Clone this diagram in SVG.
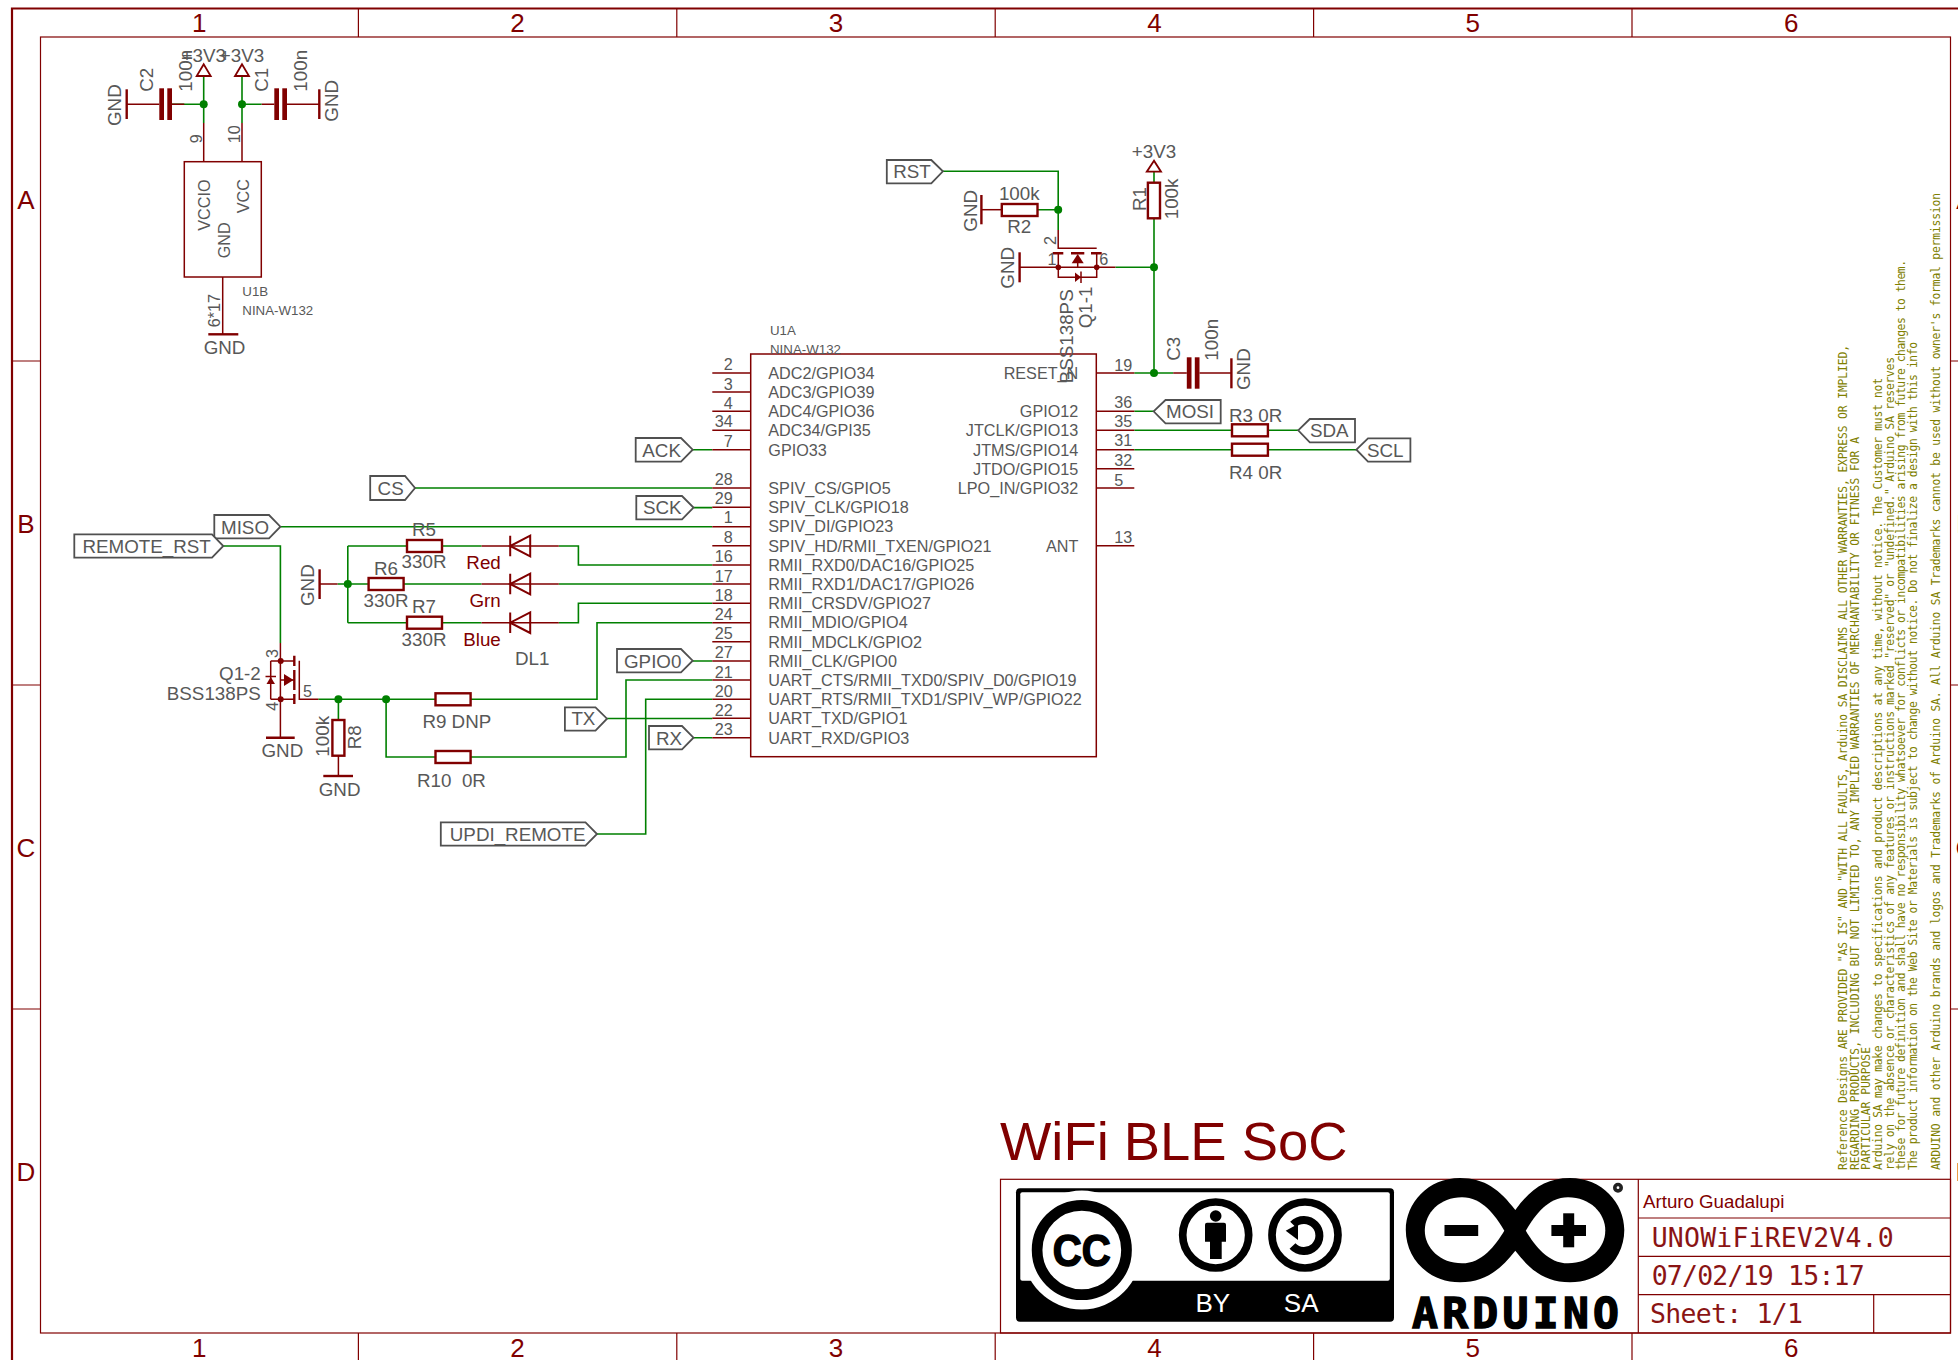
<svg xmlns="http://www.w3.org/2000/svg" width="1958" height="1360" viewBox="0 0 1958 1360">
<style>
text{font-family:"Liberation Sans",Arial,sans-serif;font-size:18.8px;fill:#585858}
.p{font-size:16.2px}
.s{font-size:13.3px}
.e{text-anchor:end}
.m{text-anchor:middle}
.r{fill:#800000}
.z{fill:#800000;font-size:26px;text-anchor:middle}
.v{font-family:"DejaVu Sans Mono","Liberation Mono",monospace;fill:#8a1414;font-size:26.5px}
.d{font-family:"DejaVu Sans Mono","Liberation Mono",monospace;fill:#808000;font-size:11.4px}
path,rect,circle,polygon{fill:none}
.w{stroke:#008000;stroke-width:1.6}
.l{stroke:#800000;stroke-width:1.5}
.t{stroke:#800000;stroke-width:2.4}
.g{stroke:#800000;stroke-width:2}
.f{stroke:#800000;stroke-width:1.2}
.lab{stroke:#505050;stroke-width:1.8;fill:#fff}
.sup{stroke:#800000;stroke-width:1.8}
.dot{fill:#008000}
.rd{fill:#800000}
.k{fill:#000}
.wh{fill:#fff}
</style>

<g id="frame">
<path class="f" style="stroke-width:2.2" d="M12 1360V8.500H1958"/>
<rect class="f" x="40.500" y="37" width="1910" height="1296"/>
<path class="f" d="M358.400 8V37M676.800 8V37M995.200 8V37M1313.600 8V37M1632 8V37M358.400 1333V1360M676.800 1333V1360M995.200 1333V1360M1313.600 1333V1360M1632 1333V1360M12 361H40M12 685H40M12 1009H40M1950 361H1958M1950 685H1958M1950 1009H1958"/>
<text class="z" x="199.200" y="32">1</text><text class="z" x="517.600" y="32">2</text><text class="z" x="836" y="32">3</text><text class="z" x="1154.400" y="32">4</text><text class="z" x="1472.800" y="32">5</text><text class="z" x="1791.200" y="32">6</text>
<text class="z" x="199.200" y="1357">1</text><text class="z" x="517.600" y="1357">2</text><text class="z" x="836" y="1357">3</text><text class="z" x="1154.400" y="1357">4</text><text class="z" x="1472.800" y="1357">5</text><text class="z" x="1791.200" y="1357">6</text>
<text class="z" x="26" y="208.500">A</text><text class="z" x="26" y="532.500">B</text><text class="z" x="26" y="856.500">C</text><text class="z" x="26" y="1180.500">D</text>
<text class="z" x="1965" y="208.500">A</text><text class="z" x="1965" y="532.500">B</text><text class="z" x="1965" y="856.500">C</text><text class="z" x="1965" y="1180.500">D</text>
</g>

<g id="connectors">
<path class="w" d="M203.700 76V123M172 104.300H203.700M242 76V123M242 104.300H261.700"/>
<path class="w" d="M942.900 171.300H1058.200V230M1037.500 209.700H1058.200M1154 182.700V171.700M1154 218.300V373M1115.400 267.300H1154M1134.300 373H1173.200"/>
<path class="w" d="M1134.300 411.300H1153.600M1134.300 430.300H1232M1267.900 430.300H1298.200M1134.300 449.700H1232M1267.900 449.700H1356.400"/>
<path class="w" d="M692.700 449.700H712.300M415 488H712.300M693.500 507.600H712.300M280.400 526.700H712.300M223.300 546H280.400V643"/>
<path class="w" d="M337.600 584H368.600M347.800 546V622.700M347.800 546H407M347.800 622.700H407M442 546H481.600M403.700 584H481.600M442 622.700H481.600"/>
<path class="w" d="M558.800 546H578.400V565H712.300M558.800 584H712.300M558.800 622.700H578.400V603.300H712.300"/>
<path class="w" d="M318.300 699.300H435.500M470.600 699.300H597V622.700H712.300M338.400 699.300V720M386.100 699.300V757H435.500M470.600 757H626V680H712.300"/>
<path class="w" d="M692.700 661H712.300M607 718.500H712.300M693.500 737.700H712.300M597 834H645.700V699.300H712.300"/>
</g>

<g id="junctions">
<circle class="dot" cx="203.700" cy="104.300" r="4"/><circle class="dot" cx="242" cy="104.300" r="4"/>
<circle class="dot" cx="1058.200" cy="209.700" r="4"/><circle class="dot" cx="1154" cy="267.300" r="4"/><circle class="dot" cx="1154" cy="373" r="4"/>
<circle class="dot" cx="347.800" cy="584" r="4"/><circle class="dot" cx="338.400" cy="699.300" r="4"/><circle class="dot" cx="386.100" cy="699.300" r="4"/>
</g>

<g id="U1B">
<rect class="l" x="184.300" y="161.700" width="77" height="115.300"/>
<path class="l" d="M203.700 123V161.700M242 123V161.700M222.700 277V334.300"/>
<path class="t" d="M208.300 334.300H238.300"/>
<text class="p" transform="translate(210 230.700) rotate(-90)">VCCIO</text>
<text class="p" transform="translate(248.700 213.300) rotate(-90)">VCC</text>
<text class="p" transform="translate(230 258.300) rotate(-90)">GND</text>
<text class="p" transform="translate(201.700 143.300) rotate(-90)">9</text>
<text class="p" transform="translate(240 143.300) rotate(-90)">10</text>
<text class="p" transform="translate(220 327.300) rotate(-90)">6*17</text>
<text class="s" x="242.300" y="296">U1B</text><text class="s" x="242.300" y="315">NINA-W132</text>
<text class="m" x="224.500" y="353.800">GND</text>
</g>

<g id="supply-left">
<polygon class="sup" points="203.700,64.300 196.700,76 210.700,76"/><text class="m" x="203.700" y="62.300">+3V3</text>
</g>
<g id="supply-right">
<polygon class="sup" points="242,64.300 235,76 249,76"/><text class="m" x="242" y="62.300">+3V3</text>
</g>

<g id="C2">
<path class="t" d="M126.700 89.300V119"/><path class="l" d="M126.700 104.300H159.300M172 104.300H184.300"/>
<rect class="rd" x="159.300" y="88.300" width="4.700" height="31.700"/><rect class="rd" x="167.300" y="88.300" width="4.700" height="31.700"/>
<text transform="translate(120.700 126) rotate(-90)">GND</text>
<text transform="translate(153.300 91.700) rotate(-90)">C2</text>
<text transform="translate(191.700 91.700) rotate(-90)">100n</text>
</g>
<g id="C1">
<path class="t" d="M319.300 89.300V119"/><path class="l" d="M261.700 104.300H274.300M287 104.300H319.300"/>
<rect class="rd" x="274.300" y="88.300" width="4.700" height="31.700"/><rect class="rd" x="282.300" y="88.300" width="4.700" height="31.700"/>
<text transform="translate(338.300 121.700) rotate(-90)">GND</text>
<text transform="translate(268.300 91.700) rotate(-90)">C1</text>
<text transform="translate(306.700 91.700) rotate(-90)">100n</text>
</g>

<g id="U1A">
<rect class="l" x="750.700" y="354" width="345.600" height="402.700"/>
<path class="l" d="M712.300 373H750.700M712.300 392H750.700M712.300 411.300H750.700M712.300 430.300H750.700M712.300 449.700H750.700M712.300 488H750.700M712.300 507.300H750.700M712.300 526.700H750.700M712.300 545.700H750.700M712.300 565H750.700M712.300 584H750.700M712.300 603.300H750.700M712.300 622.700H750.700M712.300 641.700H750.700M712.300 661H750.700M712.300 680H750.700M712.300 699.300H750.700M712.300 718.300H750.700M712.300 737.700H750.700"/>
<path class="l" d="M1096.300 373H1134.300M1096.300 411.300H1134.300M1096.300 430.300H1134.300M1096.300 449.700H1134.300M1096.300 468.700H1134.300M1096.300 488H1134.300M1096.300 545.700H1134.300"/>
<text class="s" x="770" y="335.300">U1A</text><text class="s" x="770" y="354">NINA-W132</text>
<text class="p" x="768.300" y="379.300">ADC2/GPIO34</text><text class="p" x="768.300" y="398.300">ADC3/GPIO39</text><text class="p" x="768.300" y="417.300">ADC4/GPIO36</text><text class="p" x="768.300" y="436.300">ADC34/GPI35</text><text class="p" x="768.300" y="456">GPIO33</text>
<text class="p" x="768.300" y="494">SPIV_CS/GPIO5</text><text class="p" x="768.300" y="513">SPIV_CLK/GPIO18</text><text class="p" x="768.300" y="532.300">SPIV_DI/GPIO23</text><text class="p" x="768.300" y="552">SPIV_HD/RMII_TXEN/GPIO21</text><text class="p" x="768.300" y="571">RMII_RXD0/DAC16/GPIO25</text><text class="p" x="768.300" y="590">RMII_RXD1/DAC17/GPIO26</text><text class="p" x="768.300" y="609">RMII_CRSDV/GPIO27</text><text class="p" x="768.300" y="628">RMII_MDIO/GPIO4</text><text class="p" x="768.300" y="648">RMII_MDCLK/GPIO2</text><text class="p" x="768.300" y="667">RMII_CLK/GPIO0</text><text class="p" x="768.300" y="686">UART_CTS/RMII_TXD0/SPIV_D0/GPIO19</text><text class="p" x="768.300" y="705">UART_RTS/RMII_TXD1/SPIV_WP/GPIO22</text><text class="p" x="768.300" y="724">UART_TXD/GPIO1</text><text class="p" x="768.300" y="744">UART_RXD/GPIO3</text>
<text class="p e" x="1078.300" y="379.300">RESET_N</text><text class="p e" x="1078.300" y="417.300">GPIO12</text><text class="p e" x="1078.300" y="436.300">JTCLK/GPIO13</text><text class="p e" x="1078.300" y="456">JTMS/GPIO14</text><text class="p e" x="1078.300" y="475">JTDO/GPIO15</text><text class="p e" x="1078.300" y="494">LPO_IN/GPIO32</text><text class="p e" x="1078.300" y="552">ANT</text>
<text class="p e" x="732.700" y="370">2</text><text class="p e" x="732.700" y="390">3</text><text class="p e" x="732.700" y="408.500">4</text><text class="p e" x="732.700" y="427.300">34</text><text class="p e" x="732.700" y="446.700">7</text><text class="p e" x="732.700" y="485">28</text><text class="p e" x="732.700" y="504">29</text><text class="p e" x="732.700" y="523">1</text><text class="p e" x="732.700" y="542.500">8</text><text class="p e" x="732.700" y="561.500">16</text><text class="p e" x="732.700" y="581.500">17</text><text class="p e" x="732.700" y="600.500">18</text><text class="p e" x="732.700" y="619.500">24</text><text class="p e" x="732.700" y="638.500">25</text><text class="p e" x="732.700" y="657.500">27</text><text class="p e" x="732.700" y="677.500">21</text><text class="p e" x="732.700" y="696.500">20</text><text class="p e" x="732.700" y="715.500">22</text><text class="p e" x="732.700" y="734.500">23</text>
<text class="p" x="1114.300" y="371">19</text><text class="p" x="1114.300" y="408">36</text><text class="p" x="1114.300" y="427">35</text><text class="p" x="1114.300" y="446">31</text><text class="p" x="1114.300" y="465.500">32</text><text class="p" x="1114.300" y="486">5</text><text class="p" x="1114.300" y="543">13</text>
</g>

<g id="RST"><polygon class="lab" points="886.800,160 931.300,160 942.900,171.300 931.300,183.300 886.800,183.300"/><text x="893.200" y="178.300">RST</text></g>
<g id="R2">
<path class="t" d="M981.400 195V224.300"/><path class="l" d="M981.400 209.700H1001.800"/><rect class="t" x="1001.800" y="204" width="35.700" height="12"/>
<text transform="translate(976.800 231.700) rotate(-90)">GND</text>
<text class="m" x="1019.300" y="200">100k</text><text class="m" x="1019.300" y="233.300">R2</text>
</g>
<g id="R1">
<polygon class="sup" points="1154,160.700 1146.800,171.700 1161,171.700"/>
<rect class="t" x="1147.900" y="182.700" width="12.100" height="35.600"/>
<text class="m" x="1154" y="158">+3V3</text>
<text transform="translate(1145.700 211) rotate(-90)">R1</text>
<text transform="translate(1177.900 219.300) rotate(-90)">100k</text>
</g>
<g id="Q1-1">
<path class="l" d="M1058.200 230V248.300H1096.700M1019.600 267.300H1115.400M1058.300 253.300V277.300H1096.700V253.300M1077.700 263V267.300"/>
<path class="t" d="M1052.700 253.300H1063.300M1091 253.300H1101.700M1071 253.300H1084.300"/>
<path class="t" d="M1019.600 252.300V282.300"/>
<polygon class="rd" points="1077.700,254 1071.700,263.300 1083.700,263.300"/>
<polygon class="rd" points="1075,272.500 1075,282 1081,277.300"/>
<path class="l" d="M1081 271.500V283"/>
<circle class="rd" cx="1058.300" cy="267.300" r="2.800"/><circle class="rd" cx="1096.700" cy="267.300" r="2.800"/>
<text class="p" transform="translate(1055.700 245) rotate(-90)">2</text>
<text class="p" x="1047.500" y="265">1</text><text class="p" x="1099.300" y="265">6</text>
<text transform="translate(1013.600 288.700) rotate(-90)">GND</text>
<text transform="translate(1072.500 383.300) rotate(-90)">BSS138PS</text>
<text transform="translate(1092 328.300) rotate(-90)">Q1-1</text>
</g>
<g id="C3">
<path class="l" d="M1173.200 373H1186.800M1199.500 373H1231.400"/>
<rect class="rd" x="1186.800" y="357.300" width="4.700" height="31.400"/><rect class="rd" x="1194.800" y="357.300" width="4.700" height="31.400"/>
<path class="t" d="M1231.400 358.300V388.300"/>
<text transform="translate(1250 390) rotate(-90)">GND</text>
<text transform="translate(1180.400 360.700) rotate(-90)">C3</text>
<text transform="translate(1218.200 360.700) rotate(-90)">100n</text>
</g>
<g id="MOSI"><polygon class="lab" points="1153.600,411.300 1165.500,400 1220.700,400 1220.700,423.300 1165.500,423.300"/><text x="1166" y="418.300">MOSI</text></g>
<g id="R3"><rect class="t" x="1232" y="424.300" width="35.900" height="12"/><text x="1229" y="421.700">R3 0R</text></g>
<g id="R4"><rect class="t" x="1232" y="443.700" width="35.900" height="12"/><text x="1229" y="479">R4 0R</text></g>
<g id="SDA"><polygon class="lab" points="1298.200,430.300 1309.800,419 1355,419 1355,442.300 1309.800,442.300"/><text x="1310" y="437">SDA</text></g>
<g id="SCL"><polygon class="lab" points="1356.400,449.700 1368,438.300 1410.400,438.300 1410.400,461.700 1368,461.700"/><text x="1367" y="456.700">SCL</text></g>

<g id="ACK"><polygon class="lab" points="635.700,438 681,438 692.700,449.700 681,461.700 635.700,461.700"/><text x="642.300" y="456.700">ACK</text></g>
<g id="CS"><polygon class="lab" points="370.200,476 405,476 415,488 405,500 370.200,500"/><text x="377.600" y="495">CS</text></g>
<g id="SCK"><polygon class="lab" points="636.300,496 682,496 693.500,507.600 682,519.300 636.300,519.300"/><text x="642.900" y="514">SCK</text></g>
<g id="MISO"><polygon class="lab" points="214.300,515 269,515 280.400,526.700 269,538.300 214.300,538.300"/><text x="221" y="533.500">MISO</text></g>
<g id="REMOTE_RST"><polygon class="lab" points="74.300,534.300 212,534.300 223.300,546 212,557.700 74.300,557.700"/><text x="82.400" y="553">REMOTE_RST</text></g>
<g id="GPIO0"><polygon class="lab" points="617,649 681,649 692.700,660.700 681,672.300 617,672.300"/><text x="624" y="668">GPIO0</text></g>
<g id="TX"><polygon class="lab" points="564.900,707.300 595.500,707.300 607,718.700 595.500,730.700 564.900,730.700"/><text x="571.400" y="725">TX</text></g>
<g id="RX"><polygon class="lab" points="649,726 682,726 693.500,737.700 682,749.300 649,749.300"/><text x="656" y="745">RX</text></g>
<g id="UPDI_REMOTE"><polygon class="lab" points="440.800,822.300 585.500,822.300 597,834 585.500,845.700 440.800,845.700"/><text x="449.800" y="841">UPDI_REMOTE</text></g>

<g id="GND-leds">
<path class="t" d="M319.600 569.300V599"/><path class="l" d="M319.600 584H337.600"/>
<text transform="translate(313.900 606) rotate(-90)">GND</text>
</g>
<g id="R5"><rect class="t" x="407" y="540" width="35" height="12"/><text class="m" x="424" y="535.700">R5</text><text class="m" x="424" y="568.300">330R</text></g>
<g id="R6"><rect class="t" x="368.600" y="578" width="35" height="12"/><text class="m" x="386" y="575">R6</text><text class="m" x="386" y="606.700">330R</text></g>
<g id="R7"><rect class="t" x="407" y="616.700" width="35" height="12"/><text class="m" x="424" y="612.700">R7</text><text class="m" x="424" y="645.700">330R</text></g>
<g id="DL1">
<path class="l" d="M481.600 546H558.800M481.600 584H558.800M481.600 622.700H558.800"/>
<path class="g" d="M510.200 535.700V556.300M530.200 535.700V556.300L510.200 546ZM510.200 573.700V594.300M530.200 573.700V594.300L510.200 584ZM510.200 612.400V633M530.200 612.400V633L510.200 622.700Z"/>
<text class="r e" x="500.800" y="569">Red</text><text class="r e" x="500.800" y="607.300">Grn</text><text class="r e" x="500.800" y="646">Blue</text>
<text x="515" y="665">DL1</text>
</g>
<g id="Q1-2">
<path class="l" d="M280.400 643V737.700M270.700 661H294.300M270.700 699.300H294.300M270.700 661V699.300M280.700 680H294.300M299.300 660.700V699.300H318.300"/>
<path class="t" d="M294.300 655.700V666M294.300 694V704M294.300 670V690M266 737.700H294.700"/>
<polygon class="rd" points="284,674 284,686 293.500,680"/>
<polygon class="rd" points="270.700,677 266.500,684 275,684"/>
<path class="l" d="M265.500 676.500H276"/>
<circle class="rd" cx="280.700" cy="661" r="3"/><circle class="rd" cx="280.700" cy="699.300" r="3"/>
<text class="p" transform="translate(278.400 658) rotate(-90)">3</text>
<text class="p" transform="translate(278.400 710.700) rotate(-90)">4</text>
<text class="p" x="303" y="696.700">5</text>
<text class="e" x="260.800" y="680">Q1-2</text><text class="e" x="260.800" y="700">BSS138PS</text>
<text class="m" x="282.400" y="756.700">GND</text>
</g>
<g id="R8">
<rect class="t" x="332.400" y="720" width="12" height="35.700"/>
<path class="l" d="M338.400 755.700V776"/><path class="t" d="M323.300 776H353"/>
<text transform="translate(329.400 756.700) rotate(-90)">100k</text>
<text transform="translate(361.200 749.300) rotate(-90)">R8</text>
<text class="m" x="339.600" y="795.700">GND</text>
</g>
<g id="R9"><rect class="t" x="435.500" y="693.300" width="35.100" height="12"/><text x="422.400" y="727.700" xml:space="preserve">R9 DNP</text></g>
<g id="R10"><rect class="t" x="435.500" y="751" width="35.100" height="12"/><text x="417" y="786.700" xml:space="preserve">R10  0R</text></g>

<g id="title-block">
<rect class="f" x="1000.500" y="1179.300" width="950" height="153.700"/>
<path class="f" d="M1638.300 1179.300V1333M1638.300 1218H1950.500M1638.300 1256.300H1950.500M1638.300 1294.700H1950.500M1873.700 1294.700V1333"/>
<text class="r" x="1000" y="1160" style="font-size:54.400px">WiFi BLE SoC</text>
<text class="r" x="1643" y="1207.700" style="font-size:18.700px">Arturo Guadalupi</text>
<text class="v" x="1651.700" y="1246.700" textLength="242" lengthAdjust="spacing">UNOWiFiREV2V4.0</text>
<text class="v" x="1651.700" y="1285" textLength="213" lengthAdjust="spacing">07/02/19 15:17</text>
<text class="v" x="1650" y="1323" textLength="153" lengthAdjust="spacing">Sheet: 1/1</text>
</g>

<g id="disclaimer">
<text class="d" transform="translate(1846.700 1170) rotate(-90)" textLength="825" lengthAdjust="spacing">Reference Designs ARE PROVIDED "AS IS" AND "WITH ALL FAULTS, Arduino SA DISCLAIMS ALL OTHER WARRANTIES, EXPRESS OR IMPLIED,</text>
<text class="d" transform="translate(1858.500 1170) rotate(-90)" textLength="733" lengthAdjust="spacing">REGARDING PRODUCTS, INCLUDING BUT NOT LIMITED TO, ANY IMPLIED WARRANTIES OF MERCHANTABILITY OR FITNESS FOR A</text>
<text class="d" transform="translate(1870.200 1170) rotate(-90)" textLength="123" lengthAdjust="spacing">PARTICULAR PURPOSE</text>
<text class="d" transform="translate(1881.800 1170) rotate(-90)" textLength="792" lengthAdjust="spacing">Arduino SA may make changes to specifications and product descriptions at any time, without notice. The Customer must not</text>
<text class="d" transform="translate(1893.500 1170) rotate(-90)" textLength="813" lengthAdjust="spacing">rely on the absence or characteristics of any features or instructions marked "reserved" or "undefined." Arduino SA reserves</text>
<text class="d" transform="translate(1905.200 1170) rotate(-90)" textLength="910" lengthAdjust="spacing">these for future definition and shall have no responsibility whatsoever for conflicts or incompatibilities arising from future changes to them.</text>
<text class="d" transform="translate(1917 1170) rotate(-90)" textLength="828" lengthAdjust="spacing">The product information on the Web Site or Materials is subject to change without notice. Do not finalize a design with this info</text>
<text class="d" transform="translate(1939.500 1170) rotate(-90)" textLength="977" lengthAdjust="spacing">ARDUINO and other Arduino brands and logos and Trademarks of Arduino SA. All Arduino SA Trademarks cannot be used without owner's formal permission</text>
</g>

<g id="cc-logo">
<rect class="k" x="1016" y="1188.300" width="378" height="133.400" rx="4"/>
<rect class="wh" x="1020.300" y="1192.300" width="369.500" height="88.400" rx="2"/>
<circle class="wh" cx="1081.800" cy="1250" r="59.500"/>
<circle cx="1081.800" cy="1250" r="44.700" stroke="#000" stroke-width="10.700"/>
<text x="1081.800" y="1265.500" text-anchor="middle" textLength="58" lengthAdjust="spacingAndGlyphs" style="font-size:44px;font-weight:bold;fill:#000;stroke:#000;stroke-width:1.500">CC</text>
<circle cx="1215.700" cy="1235" r="33" stroke="#000" stroke-width="7.700"/>
<circle class="k" cx="1215.700" cy="1216" r="5.800"/>
<path class="k" d="M1207 1222.700H1224Q1226 1222.700 1226 1224.700V1241.700H1221.700V1259H1210V1241.700H1205V1224.700Q1205 1222.700 1207 1222.700Z"/>
<circle cx="1305" cy="1235" r="33" stroke="#000" stroke-width="7.700"/>
<path d="M1293 1224.500A15.500 15.500 0 1 1 1292.500 1246" stroke="#000" stroke-width="8"/>
<polygon class="k" points="1285.700,1230.700 1298,1224 1298,1240"/>
<text x="1195.400" y="1311.700" style="font-size:26px;fill:#fff">BY</text>
<text x="1283.800" y="1311.700" style="font-size:26px;fill:#fff">SA</text>
</g>

<g id="arduino-logo">
<path class="k" d="M1515.300 1210C1500 1190 1485 1178 1460 1178C1428 1178 1405.800 1203 1405.800 1230C1405.800 1258 1428 1282.300 1460 1282.300C1485 1282.300 1500 1270 1515.300 1250.700C1530 1270 1545 1282.300 1570 1282.300C1602 1282.300 1624.300 1258 1624.300 1230C1624.300 1203 1602 1178 1570 1178C1545 1178 1530 1190 1515.300 1210Z"/>
<path class="wh" d="M1504.300 1230.700C1495 1215 1482 1197.300 1462 1197.300C1440 1197.300 1424.800 1213 1424.800 1230.500C1424.800 1248 1440 1263.300 1462 1263.300C1482 1263.300 1495 1246 1504.300 1230.700Z"/>
<path class="wh" d="M1525.800 1230.700C1535 1215 1548 1197.300 1568 1197.300C1590 1197.300 1605.300 1213 1605.300 1230.500C1605.300 1248 1590 1263.300 1568 1263.300C1548 1263.300 1535 1246 1525.800 1230.700Z"/>
<rect class="k" x="1444.500" y="1225" width="33.700" height="11"/>
<rect class="k" x="1551.400" y="1225" width="34.600" height="11"/><rect class="k" x="1563.200" y="1213.300" width="11" height="34"/>
<circle cx="1618" cy="1187.700" r="3.200" stroke="#222" stroke-width="3.600"/>
<text x="1412" y="1328" textLength="207" lengthAdjust="spacing" style="font-family:'DejaVu Sans Mono','Liberation Mono',monospace;font-size:43px;font-weight:bold;fill:#000;stroke:#000;stroke-width:1.500">ARDUINO</text>
</g>
</svg>
